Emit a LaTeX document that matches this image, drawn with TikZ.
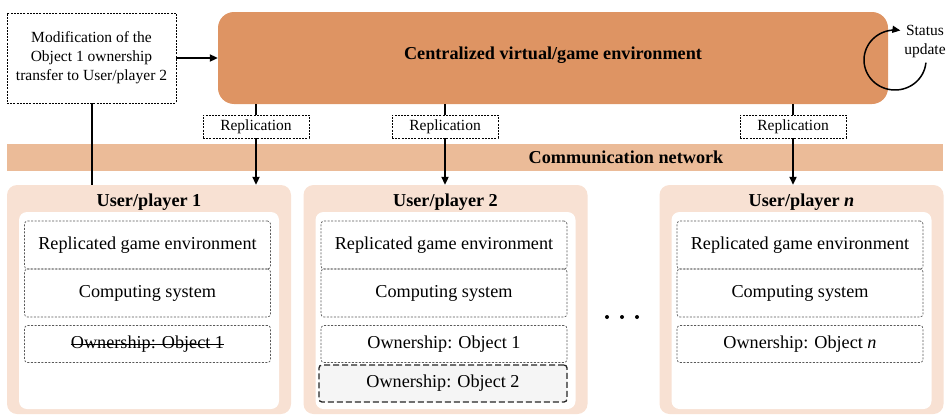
\documentclass[tikz,border=0pt]{standalone}
\usepackage{fontspec}
\setmainfont{Liberation Serif}
\usetikzlibrary{arrows.meta}
\definecolor{central}{RGB}{222,148,99}
\definecolor{netbg}{RGB}{235,187,152}
\definecolor{userbg}{RGB}{248,225,211}
\definecolor{ownfill}{RGB}{245,245,245}
\begin{document}
\begin{tikzpicture}[x=1pt,y=-1pt,
  font=\fontsize{18.2}{21}\selectfont,
  dotbox/.style={draw=black!65, dash pattern=on 2pt off 1.5pt, line width=0.7pt, rounded corners=3pt, inner sep=0, minimum width=246pt},
  smallbox/.style={draw=black, dash pattern=on 2pt off 1.2pt, line width=0.8pt, inner sep=0, fill=white, font=\fontsize{15.5}{19}\selectfont},
  arr/.style={line width=2pt, -{Triangle[length=8pt,width=7pt]}},
  conn/.style={line width=2pt}]
\useasboundingbox (0,0) rectangle (949,415);

% central environment
\node[fill=central, rounded corners=16pt, minimum width=670pt, minimum height=92pt, inner sep=0] (cen) at (553,58) {};
\node[font=\bfseries\fontsize{18.2}{21}\selectfont, inner sep=0] (centxt) at (553,55) {Centralized virtual/game environment};

% modification box
\node[smallbox, minimum width=169pt, minimum height=90pt, align=center] (mod) at (91.5,58) {Modification of the\\Object 1 ownership\\transfer to User/player 2};
\draw[arr] (mod.east) -- (cen.west);

% status update
\draw[line width=1.5pt, -{Triangle[length=8pt,width=7pt]}] plot[smooth, samples=60, domain=5:280] ({895+31*cos(\x)},{60+30*sin(\x)});
\node[font=\fontsize{15.5}{19}\selectfont, align=center, inner sep=0] (st) at (925,42) {Status\\update};

% network band
\node[fill=netbg, minimum width=936pt, minimum height=27pt, inner sep=0] (net) at (475,157.5) {};
\node[font=\bfseries\fontsize{18.2}{21}\selectfont, inner sep=0] (nettxt) at (626,157) {Communication network};

% users
\foreach \i/\cx/\ttl in {1/149/1, 2/445.5/2, n/801.5/\textit{n}} {
  \node[fill=userbg, rounded corners=10pt, minimum width=284pt, minimum height=229pt, inner sep=0] (u\i) at (\cx,299.5) {};
  \node[font=\bfseries\fontsize{18.2}{21}\selectfont, inner sep=0] (t\i) at (\cx,202) {User/player \ttl};
  \node[fill=white, rounded corners=8pt, minimum width=260pt, minimum height=197pt, inner sep=0] (w\i) at (\cx,310.5) {};
  \node[dotbox, minimum height=48pt] (a\i) at ([xshift=-1.5pt]\cx,245) {Replicated game environment};
  \node[dotbox, minimum height=48pt] (b\i) at ([xshift=-1.5pt]\cx,293) {Computing system};
  \node[dotbox, minimum height=37pt] (c\i) at ([xshift=-1.5pt]\cx,344) {};
}
\node[inner sep=0] (o1) at (c1) {Ownership: Object 1};
\draw[line width=0.8pt] (o1.west) -- (o1.east);
\node[inner sep=0] (o2) at (c2) {Ownership: Object 1};
\node[inner sep=0] (on) at (cn) {Ownership: Object \textit{n}};
\node[draw=black!85, fill=ownfill, dash pattern=on 6pt off 3pt, line width=1.3pt, rounded corners=3pt, minimum width=248pt, minimum height=37pt, inner sep=0] (d2) at (443,383.5) {Ownership: Object 2};

% dots
\fill (607,317) circle (2pt);
\fill (622,317) circle (2pt);
\fill (637,317) circle (2pt);

% vertical line from modification box
\draw[conn] (mod.south) -- (mod.south |- u1.north);

% replication
\node[smallbox, minimum width=106pt, minimum height=23pt] (r1) at (256,126.5) {Replication};
\node[smallbox, minimum width=106pt, minimum height=23pt] (r2) at (445,126.5) {Replication};
\node[smallbox, minimum width=106pt, minimum height=23pt] (r3) at (793,126.5) {Replication};
\foreach \r/\u in {r1/u1, r2/u2, r3/un} {
  \draw[conn] (cen.south -| \r) -- (\r.north);
  \draw[arr] (\r.south) -- (\r.south |- \u.north);
}
\end{tikzpicture}
\end{document}
